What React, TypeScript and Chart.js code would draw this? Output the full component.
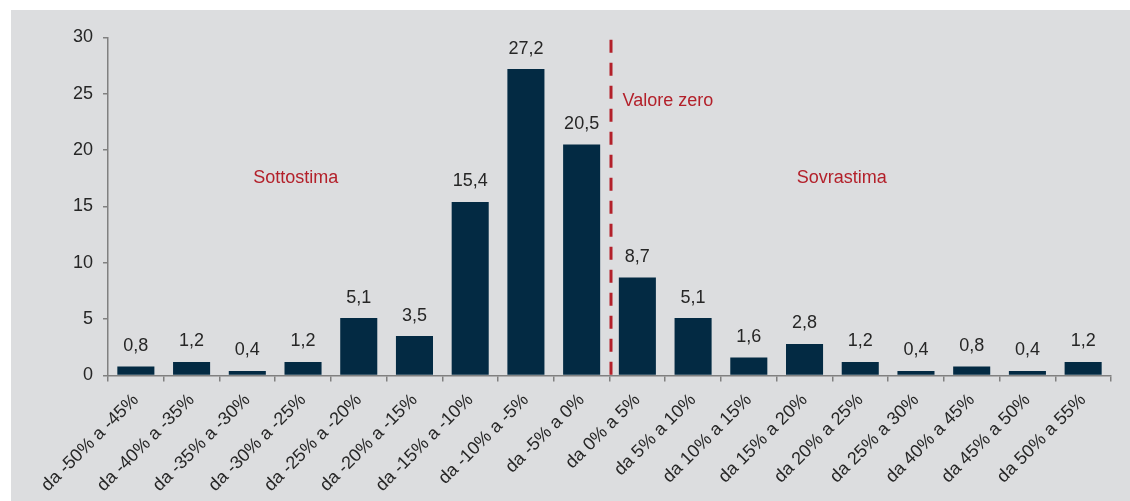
import React, { useEffect, useRef } from "react";
import { Chart, registerables } from "chart.js";

Chart.register(...registerables);

const categories = [
  "da -50% a -45%",
  "da -40% a -35%",
  "da -35% a -30%",
  "da -30% a -25%",
  "da -25% a -20%",
  "da -20% a -15%",
  "da -15% a -10%",
  "da -10% a -5%",
  "da -5% a 0%",
  "da 0% a 5%",
  "da 5% a 10%",
  "da 10% a 15%",
  "da 15% a 20%",
  "da 20% a 25%",
  "da 25% a 30%",
  "da 40% a 45%",
  "da 45% a 50%",
  "da 50% a 55%",
];

const values = [0.8, 1.2, 0.4, 1.2, 5.1, 3.5, 15.4, 27.2, 20.5, 8.7, 5.1, 1.6, 2.8, 1.2, 0.4, 0.8, 0.4, 1.2];

const yMin = 0;
const yMax = 30;
const yStep = 5;

// zero line sits on the boundary between "da -5% a 0%" and "da 0% a 5%"
const zeroBoundary = 8.5;

const annotationTexts = ["Sottostima", "Sovrastima", "Valore zero"];
const annotationX = [2.87, 12.67, 8.5];
const annotationY = [17.5, 17.5, 24.4];
const annotationAlign: CanvasTextAlign[] = ["center", "center", "left"];

const FONT = "'Liberation Sans', Arial, sans-serif";
const TEXT = "#262626";
const RED = "#B3202A";
const BAR = "#032A43";
const AXIS = "#808080";

const fmt = (v: number) => v.toFixed(1).replace(".", ",");

const overlayPlugin = {
  id: "overlay",
  afterDatasetsDraw(chart: any) {
    const ctx = chart.ctx as CanvasRenderingContext2D;
    const xs = chart.scales.x;
    const ys = chart.scales.y;
    const meta = chart.getDatasetMeta(0);
    ctx.save();
    // value labels
    ctx.font = `18px ${FONT}`;
    ctx.fillStyle = TEXT;
    ctx.textAlign = "center";
    ctx.textBaseline = "alphabetic";
    meta.data.forEach((bar: any, i: number) => {
      ctx.fillText(fmt(values[i]), bar.x, bar.y - 15.5);
    });
    // zero dashed line
    const zx = xs.getPixelForValue(zeroBoundary) + 1.5;
    ctx.strokeStyle = RED;
    ctx.lineWidth = 3;
    ctx.setLineDash([13, 10]);
    ctx.beginPath();
    ctx.moveTo(zx, ys.getPixelForValue(29.8));
    ctx.lineTo(zx, ys.getPixelForValue(0));
    ctx.stroke();
    ctx.setLineDash([]);
    // annotations
    ctx.fillStyle = RED;
    ctx.textBaseline = "middle";
    annotationTexts.forEach((t, i) => {
      ctx.textAlign = annotationAlign[i];
      let x = xs.getPixelForValue(annotationX[i]);
      if (annotationAlign[i] === "left") x += 13;
      ctx.fillText(t, x, ys.getPixelForValue(annotationY[i]));
    });
    ctx.restore();
  },
};

export default function App() {
  const ref = useRef<HTMLCanvasElement | null>(null);
  useEffect(() => {
    if (!ref.current) return;
    const chart = new Chart(ref.current, {
      type: "bar",
      data: {
        labels: categories,
        datasets: [
          {
            data: values,
            backgroundColor: BAR,
            borderWidth: 0,
            barPercentage: 0.665,
            categoryPercentage: 1,
          },
        ],
      },
      options: {
        responsive: false,
        animation: false,
        devicePixelRatio: 1,
        layout: { padding: { top: 27.5, right: 19, left: 1, bottom: 0 } },
        plugins: {
          legend: { display: false },
          tooltip: { enabled: false },
          title: { display: false },
        },
        scales: {
          x: {
            offset: true,
            grid: {
              offset: true,
              drawOnChartArea: false,
              drawTicks: true,
              tickLength: 6,
              color: AXIS,
              lineWidth: 1.5,
            },
            border: { color: AXIS, width: 1.5 },
            ticks: {
              color: TEXT,
              font: { family: FONT, size: 18 },
              minRotation: 45,
              maxRotation: 45,
              autoSkip: false,
              padding: 8,
            },
            afterFit: (s: any) => {
              s.height = 125.5;
            },
          },
          y: {
            min: yMin,
            max: yMax,
            grid: {
              drawOnChartArea: false,
              drawTicks: true,
              tickLength: 5,
              color: AXIS,
              lineWidth: 1.5,
            },
            border: { color: AXIS, width: 1.5 },
            ticks: {
              stepSize: yStep,
              color: TEXT,
              font: { family: FONT, size: 18 },
              padding: 10,
            },
            afterFit: (s: any) => {
              s.width = 96;
            },
          },
        },
      },
      plugins: [overlayPlugin],
    });
    return () => chart.destroy();
  }, []);
  return (
    <div
      style={{
        position: "absolute",
        left: 11,
        top: 10,
        width: 1119,
        height: 491,
        background: "#DCDDDF",
      }}
    >
      <canvas ref={ref} width={1119} height={491} style={{ display: "block" }} />
    </div>
  );
}
